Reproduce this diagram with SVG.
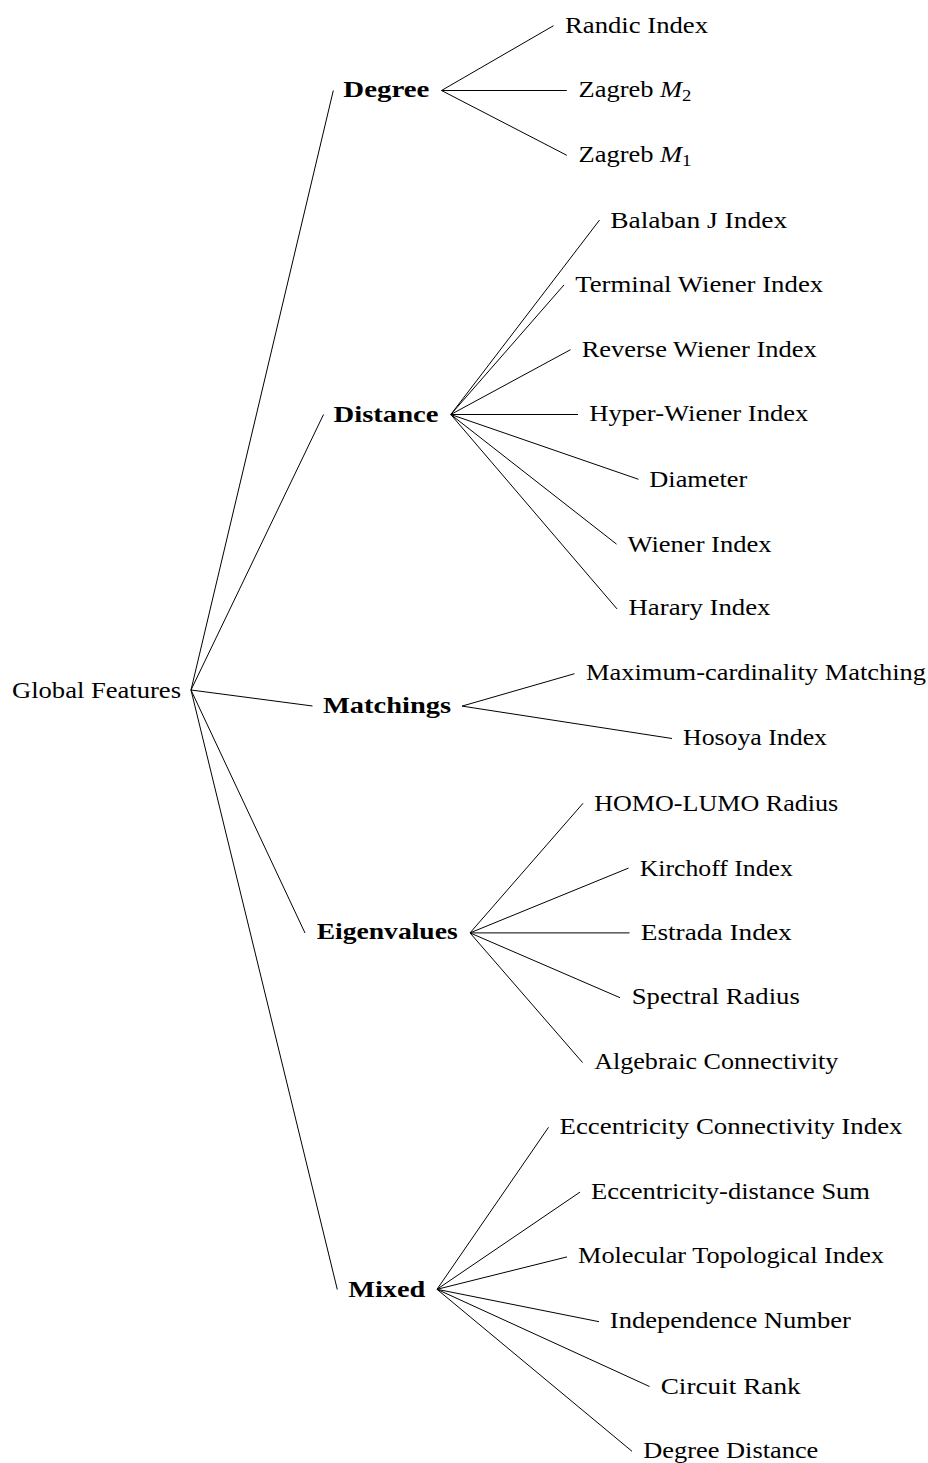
<svg xmlns="http://www.w3.org/2000/svg" width="928" height="1463" viewBox="0 0 928 1463">
<style>
.t{font-family:"Liberation Serif","Times New Roman",serif;font-size:24px;fill:#000;text-anchor:middle}
.b{font-weight:bold}
.e line{stroke:#000;stroke-width:1;fill:none}
</style>
<rect width="928" height="1463" fill="#fff"/>
<g id="connectors" class="e">
<line x1="191" y1="690" x2="333.3" y2="90.5"/>
<line x1="191" y1="690" x2="323.5" y2="414.5"/>
<line x1="191" y1="690" x2="312.5" y2="706"/>
<line x1="191" y1="690" x2="305" y2="933"/>
<line x1="191" y1="690" x2="337.3" y2="1289.5"/>
<line x1="441.5" y1="90.5" x2="553.5" y2="25.7"/>
<line x1="441.5" y1="90.5" x2="566.8" y2="90.5"/>
<line x1="441.5" y1="90.5" x2="566.8" y2="155.3"/>
<line x1="450.8" y1="414.5" x2="599.5" y2="220.1"/>
<line x1="450.8" y1="414.5" x2="564" y2="284.9"/>
<line x1="450.8" y1="414.5" x2="570.5" y2="349.7"/>
<line x1="450.8" y1="414.5" x2="578" y2="414.5"/>
<line x1="450.8" y1="414.5" x2="638.5" y2="479.3"/>
<line x1="450.8" y1="414.5" x2="616.5" y2="544.1"/>
<line x1="450.8" y1="414.5" x2="617" y2="608.9"/>
<line x1="462" y1="706.1" x2="574.5" y2="673.7"/>
<line x1="462" y1="706.1" x2="672" y2="738.5"/>
<line x1="470" y1="932.9" x2="583" y2="803.3"/>
<line x1="470" y1="932.9" x2="628.5" y2="868.1"/>
<line x1="470" y1="932.9" x2="629.5" y2="932.9"/>
<line x1="470" y1="932.9" x2="620" y2="997.7"/>
<line x1="470" y1="932.9" x2="582.5" y2="1062.5"/>
<line x1="437" y1="1289.3" x2="548.5" y2="1127.3"/>
<line x1="437" y1="1289.3" x2="580" y2="1192.1"/>
<line x1="437" y1="1289.3" x2="567" y2="1256.9"/>
<line x1="437" y1="1289.3" x2="599" y2="1321.7"/>
<line x1="437" y1="1289.3" x2="649.5" y2="1386.5"/>
<line x1="437" y1="1289.3" x2="632" y2="1451.3"/>
</g>
<g id="root"><text class="t" x="96.5" y="697.5" textLength="169" lengthAdjust="spacingAndGlyphs">Global Features</text></g>
<g id="degree"><text class="t b" x="386.3" y="97" textLength="86" lengthAdjust="spacingAndGlyphs">Degree</text></g>
<g id="distance"><text class="t b" x="386" y="422" textLength="105" lengthAdjust="spacingAndGlyphs">Distance</text></g>
<g id="matchings"><text class="t b" x="387" y="712.6" textLength="128" lengthAdjust="spacingAndGlyphs">Matchings</text></g>
<g id="eigenvalues"><text class="t b" x="387.2" y="939.4" textLength="141" lengthAdjust="spacingAndGlyphs">Eigenvalues</text></g>
<g id="mixed"><text class="t b" x="386.7" y="1296.8" textLength="77" lengthAdjust="spacingAndGlyphs">Mixed</text></g>
<g id="randic"><text class="t" x="636.5" y="33.2" textLength="143" lengthAdjust="spacingAndGlyphs">Randic Index</text></g>
<g id="zagreb-m2"><text class="t" x="635" y="97" textLength="113" lengthAdjust="spacingAndGlyphs">Zagreb <tspan font-style="italic">M</tspan><tspan font-size="17" dy="4">2</tspan></text></g>
<g id="zagreb-m1"><text class="t" x="635" y="161.8" textLength="113" lengthAdjust="spacingAndGlyphs">Zagreb <tspan font-style="italic">M</tspan><tspan font-size="17" dy="4">1</tspan></text></g>
<g id="balaban"><text class="t" x="698.7" y="227.6" textLength="177" lengthAdjust="spacingAndGlyphs">Balaban J Index</text></g>
<g id="terminal-wiener"><text class="t" x="699.2" y="292.4" textLength="248" lengthAdjust="spacingAndGlyphs">Terminal Wiener Index</text></g>
<g id="reverse-wiener"><text class="t" x="699.2" y="357.2" textLength="235" lengthAdjust="spacingAndGlyphs">Reverse Wiener Index</text></g>
<g id="hyper-wiener"><text class="t" x="698.8" y="421" textLength="219" lengthAdjust="spacingAndGlyphs">Hyper-Wiener Index</text></g>
<g id="diameter"><text class="t" x="698.3" y="486.8" textLength="98" lengthAdjust="spacingAndGlyphs">Diameter</text></g>
<g id="wiener"><text class="t" x="699.5" y="551.6" textLength="144" lengthAdjust="spacingAndGlyphs">Wiener Index</text></g>
<g id="harary"><text class="t" x="699.5" y="615.4" textLength="142" lengthAdjust="spacingAndGlyphs">Harary Index</text></g>
<g id="max-card-matching"><text class="t" x="756" y="680.2" textLength="340" lengthAdjust="spacingAndGlyphs">Maximum-cardinality Matching</text></g>
<g id="hosoya"><text class="t" x="755" y="745" textLength="144" lengthAdjust="spacingAndGlyphs">Hosoya Index</text></g>
<g id="homo-lumo"><text class="t" x="716.2" y="810.8" textLength="244" lengthAdjust="spacingAndGlyphs">HOMO-LUMO Radius</text></g>
<g id="kirchoff"><text class="t" x="716.3" y="875.6" textLength="153" lengthAdjust="spacingAndGlyphs">Kirchoff Index</text></g>
<g id="estrada"><text class="t" x="716.2" y="940.4" textLength="151" lengthAdjust="spacingAndGlyphs">Estrada Index</text></g>
<g id="spectral-radius"><text class="t" x="715.8" y="1004.2" textLength="168" lengthAdjust="spacingAndGlyphs">Spectral Radius</text></g>
<g id="algebraic-connectivity"><text class="t" x="716.2" y="1069" textLength="244" lengthAdjust="spacingAndGlyphs">Algebraic Connectivity</text></g>
<g id="ecc-connectivity"><text class="t" x="731" y="1133.8" textLength="343" lengthAdjust="spacingAndGlyphs">Eccentricity Connectivity Index</text></g>
<g id="ecc-distance-sum"><text class="t" x="730.5" y="1198.6" textLength="279" lengthAdjust="spacingAndGlyphs">Eccentricity-distance Sum</text></g>
<g id="molecular-topological"><text class="t" x="731" y="1263.4" textLength="306" lengthAdjust="spacingAndGlyphs">Molecular Topological Index</text></g>
<g id="independence-number"><text class="t" x="730.3" y="1328.2" textLength="241" lengthAdjust="spacingAndGlyphs">Independence Number</text></g>
<g id="circuit-rank"><text class="t" x="730.7" y="1394" textLength="140" lengthAdjust="spacingAndGlyphs">Circuit Rank</text></g>
<g id="degree-distance"><text class="t" x="730.8" y="1457.8" textLength="175" lengthAdjust="spacingAndGlyphs">Degree Distance</text></g>
</svg>
